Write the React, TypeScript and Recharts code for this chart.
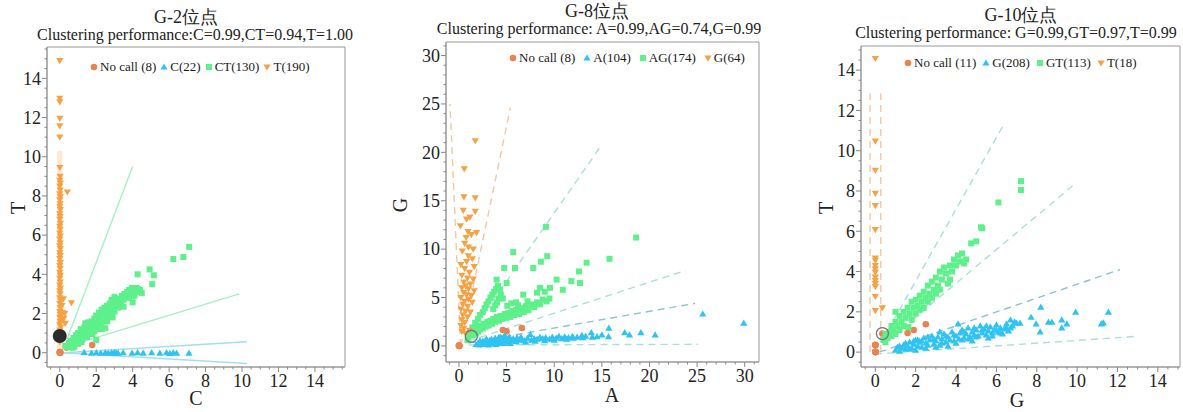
import React from "react";
import { ScatterChart, Scatter, XAxis, YAxis, ReferenceLine, ReferenceArea } from "recharts";

type Pt = [number, number];

const FONT = '"Liberation Serif", "Times New Roman", serif';
const ORANGE = "#f7a143";
const BLUE = "#2fc3f2";
const GREEN = "#5df08b";
const NOCALL = "#ea8352";

// ---------- G-2 ----------
const g2Legend = ["No call (8)", "C(22)", "CT(130)", "T(190)"];
const g2NoCall: Pt[] = [[0, 0], [0.37, 0.26], [1.78, 0.39], [0.02, 0.02], [0, 0.03], [0.03, 0], [0.01, 0.01], [0.02, 0.03]];
const g2Marked: Pt[] = [[0, 0.85]];
const g2C: Pt[] = [
  [1.34, 0.02], [1.74, -0.02], [2.01, 0], [2.25, -0.02], [2.5, 0], [2.66, -0.02], [2.84, 0], [2.95, -0.03],
  [3.02, 0], [3.2, -0.02], [3.48, 0], [3.97, -0.02], [4.27, 0], [4.58, -0.02], [5.04, 0], [5.49, -0.02],
  [5.86, 0], [6.04, -0.03], [6.23, 0], [6.41, -0.02], [3.1, -0.01], [7.09, -0.02],
];
const g2CT: Pt[] = [
  [0.3, 0.35], [0.4, 0.3], [0.5, 0.5], [0.55, 0.35], [0.6, 0.6], [0.64, 0.3], [0.7, 0.45], [0.75, 0.75], [0.8, 0.3],
  [0.85, 0.55], [0.9, 0.9], [0.95, 0.7], [1.0, 0.45], [1.0, 1.0], [1.05, 0.8], [1.1, 0.6], [1.15, 1.2], [1.2, 0.95],
  [1.25, 0.7], [1.3, 1.1], [1.35, 1.3], [1.4, 0.85], [1.45, 1.0], [1.5, 1.25], [1.55, 1.55], [1.6, 1.05], [1.65, 1.4],
  [1.7, 1.2], [1.75, 1.6], [1.8, 0.95], [1.85, 1.35], [1.9, 1.75], [1.95, 1.5], [2.0, 1.2], [2.0, 1.9], [2.0, 0.65],
  [2.05, 1.65], [2.1, 1.4], [2.15, 2.05], [2.2, 1.8], [2.25, 1.5], [2.3, 2.2], [2.3, 1.2], [2.35, 1.95], [2.4, 1.6],
  [2.45, 2.3], [2.5, 2.0], [2.5, 1.25], [2.55, 1.75], [2.6, 2.4], [2.65, 2.15], [2.7, 1.9], [2.75, 2.5], [2.8, 2.25],
  [2.84, 2.7], [2.85, 2.0], [2.9, 2.6], [2.95, 2.35], [3.0, 2.1], [3.0, 2.85], [3.05, 2.7], [3.1, 2.45], [3.2, 2.6],
  [3.3, 2.75], [3.35, 2.5], [3.35, 2.76], [3.4, 2.9], [3.5, 2.7], [3.55, 3.0], [3.6, 2.85], [3.7, 3.1], [3.75, 2.95],
  [3.8, 3.2], [3.9, 3.05], [3.95, 3.3], [4.0, 3.15], [4.0, 2.57], [4.1, 3.25], [4.2, 3.3], [4.3, 3.1], [4.4, 3.2],
  [4.5, 3.05], [4.27, 4.0], [4.93, 4.25], [5.16, 3.95], [5.07, 3.5], [6.23, 4.78], [6.78, 4.88], [7.1, 5.4],
  [1.2, 0.55], [1.5, 0.8], [1.7, 1.0], [2.2, 1.3], [2.6, 1.6], [2.9, 1.8], [3.2, 2.3], [3.5, 2.35], [3.8, 2.8],
  [4.1, 2.9], [4.3, 3.25], [0.7, 0.25], [1.0, 0.7], [1.4, 1.5], [1.9, 1.1],
];
const g2T: Pt[] = [
  [0, 0.55], [0.02, 0.7], [0, 0.85], [0.03, 1.0], [0, 1.15], [0.05, 1.3], [0, 1.45], [0.02, 1.6], [0.1, 1.7], [0, 1.8],
  [0.03, 1.95], [0.15, 2.05], [0, 2.1], [0.02, 2.3], [0.12, 2.4], [0, 2.5], [0.04, 2.65], [0.2, 2.75], [0, 2.8],
  [0.02, 3.0], [0, 3.15], [0.03, 3.3], [0, 3.45], [0.02, 3.6], [0, 3.8], [0.03, 3.95], [0, 4.1], [0.02, 4.3], [0, 4.45],
  [0.03, 4.6], [0, 4.8], [0.02, 4.95], [0, 5.1], [0.03, 5.3], [0, 5.45], [0.02, 5.6], [0, 5.8], [0.03, 5.95], [0, 6.1],
  [0.02, 6.3], [0, 6.45], [0.03, 6.6], [0, 6.8], [0.02, 6.95], [0, 7.1], [0.03, 7.3], [0, 7.45], [0.02, 7.6], [0, 7.8],
  [0.03, 7.95], [0, 8.1], [0.02, 8.3], [0, 8.5], [0.03, 8.65], [0, 8.8], [0.02, 9.0], [0, 9.45], [0.42, 8.2],
  [0.64, 2.55], [0.27, 2.0], [0.22, 1.75], [0.3, 1.5], [0, 11.0], [0, 11.57], [0, 11.96], [0, 12.8], [0, 12.98], [0, 14.9],
];
const g2Ticks = [0, 2, 4, 6, 8, 10, 12, 14];

// ---------- G-8 ----------
const g8Legend = ["No call (8)", "A(104)", "AG(174)", "G(64)"];
const g8NoCall: Pt[] = [[0, 0], [4.6, 1.65], [5.0, 1.5], [6.6, 1.85], [0.03, 0.02], [0.02, 0.04], [0.05, 0], [0, 0.05]];
const g8Marked: Pt[] = [[1.3, 1.0]];
const g8A: Pt[] = [
  [1.8, 0.15], [2.0, 0.3], [2.1, 0.1], [2.3, 0.4], [2.4, 0.2], [2.5, 0.5], [2.6, 0.15], [2.7, 0.35], [2.8, 0.6],
  [2.9, 0.25], [3.0, 0.45], [3.1, 0.1], [3.2, 0.55], [3.3, 0.3], [3.4, 0.7], [3.5, 0.2], [3.6, 0.5], [3.7, 0.35],
  [3.8, 0.8], [3.9, 0.15], [4.0, 0.6], [4.1, 0.4], [4.2, 0.9], [4.3, 0.3], [4.4, 0.65], [4.5, 0.45], [4.6, 0.8],
  [4.7, 0.25], [4.8, 1.1], [4.9, 0.55], [5.0, 0.7], [5.2, 0.4], [5.3, 0.9], [5.5, 0.6], [5.7, 0.75], [5.9, 0.5],
  [6.1, 0.85], [6.3, 0.6], [6.6, 0.7], [6.9, 0.55], [7.2, 0.8], [7.5, 1.2], [7.6, 0.6], [7.9, 0.75], [8.2, 0.7],
  [8.5, 0.9], [8.8, 0.75], [9.1, 0.85], [9.5, 0.7], [9.8, 0.9], [10.2, 0.8], [10.5, 1.0], [10.8, 0.75], [11.1, 0.95],
  [11.5, 0.85], [11.9, 1.0], [12.4, 0.9], [12.9, 1.1], [13.3, 1.0], [13.9, 1.38], [14.5, 0.97], [15.0, 1.14],
  [15.74, 1.83], [15.7, 0.97], [17.4, 1.38], [17.9, 1.14], [19.1, 1.38], [20.6, 1.14], [25.6, 3.3], [29.9, 2.35],
  [2.2, 0.55], [2.9, 0.7], [3.4, 0.45], [4.0, 0.25], [4.4, 0.9], [5.1, 0.55], [5.4, 0.25], [6.0, 0.45], [6.5, 0.9],
  [7.0, 0.4], [8.0, 0.5], [9.0, 0.55], [10.0, 0.6], [11.3, 0.7], [12.0, 0.8], [13.0, 0.85], [14.0, 0.9],
];
const g8AG: Pt[] = [
  [0.9, 0.6], [1.0, 1.0], [1.2, 1.3], [1.3, 1.5], [1.5, 1.1], [1.6, 1.6], [1.8, 1.3], [1.9, 1.9], [2.0, 1.5], [2.2, 1.7],
  [2.3, 2.1], [2.5, 1.8], [2.6, 2.3], [2.8, 2.0], [3.0, 2.5], [3.1, 2.1], [3.3, 2.6], [3.5, 2.3], [3.6, 2.8], [3.8, 2.5],
  [4.0, 3.0], [4.2, 2.6], [4.4, 3.1], [4.6, 2.8], [4.8, 3.3], [5.0, 2.9], [5.2, 3.4], [5.4, 3.0], [5.6, 3.6], [5.8, 3.2],
  [6.0, 3.7], [6.3, 3.3], [6.5, 3.9], [6.8, 3.5], [7.0, 4.1], [7.3, 3.7], [7.6, 4.3], [7.9, 4.0], [8.2, 4.5], [8.5, 4.3],
  [8.8, 4.8], [9.2, 4.6], [9.5, 4.9], [7.2, 4.6], [6.2, 4.2], [1.4, 1.9], [1.7, 2.4], [2.0, 2.8], [2.2, 3.2], [2.5, 3.5],
  [2.7, 3.9], [2.9, 4.3], [3.1, 4.6], [3.3, 5.0], [3.5, 5.3], [3.7, 5.6], [3.9, 5.9], [4.1, 6.2], [4.3, 5.8], [4.4, 5.3],
  [4.2, 4.9], [4.0, 4.5], [3.8, 4.2], [3.6, 3.8], [4.6, 4.9], [5.07, 4.15], [3.95, 6.85], [5.0, 6.5], [4.75, 8.05],
  [5.88, 8.05], [5.7, 9.7], [7.8, 8.05], [8.6, 8.7], [9.27, 9.27], [9.13, 12.3], [6.75, 5.3], [8.5, 6.0], [9.55, 6.0],
  [10.25, 6.85], [10.9, 5.8], [11.8, 6.7], [12.7, 6.5], [12.6, 7.7], [13.4, 8.6], [15.8, 9.0], [18.6, 11.2], [8.2, 5.5],
  [9.0, 5.6], [6.0, 4.5], [5.5, 4.4],
];
const g8G: Pt[] = [
  [1.71, 21.2], [0.56, 18.3], [0.52, 15.4], [1.71, 15.3], [0.45, 14.0], [1.71, 13.9], [1.15, 13.3], [0.8, 13.1],
  [0.15, 12.4], [1.85, 11.7], [0.95, 11.8], [0.75, 11.2], [1.3, 11.5], [0.6, 10.6], [1.0, 10.2], [1.5, 10.0],
  [0.35, 9.8], [0.98, 9.3], [1.4, 9.0], [0.8, 8.7], [0.2, 8.4], [1.6, 8.2], [0.6, 8.0], [1.1, 7.6], [0.3, 7.3],
  [0.9, 7.0], [1.5, 6.9], [0.5, 6.6], [1.2, 6.4], [0.7, 6.2], [0.3, 6.0], [1.0, 5.9], [1.6, 5.7], [0.5, 5.5],
  [0.8, 5.3], [1.3, 5.2], [0.2, 5.0], [1.0, 4.8], [0.6, 4.6], [1.4, 4.5], [0.4, 4.3], [0.9, 4.1], [0.2, 3.8],
  [0.7, 3.6], [1.2, 3.5], [0.4, 3.2], [0.9, 3.0], [0.3, 2.7], [0.6, 2.4], [0.2, 2.1], [0.5, 1.8], [0.3, 1.5],
  [0.7, 1.3], [1.1, 1.6],
];
const g8Ticks = [0, 5, 10, 15, 20, 25, 30];

// ---------- G-10 ----------
const g10Legend = ["No call (11)", "G(208)", "GT(113)", "T(18)"];
const g10NoCall: Pt[] = [
  [0, 0], [0, 0.35], [0.35, 0.92], [1.6, 0.95], [1.9, 1.1], [2.5, 1.38],
  [0.01, 0.01], [0.02, 0], [0, 0.02], [0.01, 0.34], [0, 0.36],
];
const g10Marked: Pt[] = [[0.35, 0.92]];
const g10G: Pt[] = [
  [1.0, 0.1], [1.1, 0.25], [1.2, 0.05], [1.3, 0.2], [1.4, 0.35], [1.5, 0.15], [1.5, 0.45], [1.6, 0.3], [1.7, 0.5],
  [1.8, 0.2], [1.9, 0.4], [2.0, 0.6], [2.0, 0.1], [2.1, 0.3], [2.2, 0.5], [2.3, 0.25], [2.3, 0.55], [2.4, 0.7],
  [2.5, 0.45], [2.6, 0.35], [2.7, 0.6], [2.8, 0.8], [2.9, 0.4], [3.0, 0.55], [3.1, 0.75], [3.2, 0.35], [3.2, 1.0],
  [3.3, 0.65], [3.4, 0.9], [3.5, 0.5], [3.6, 0.75], [3.6, 0.3], [3.7, 0.6], [3.8, 1.0], [3.9, 0.55], [4.0, 0.8],
  [4.1, 1.4], [4.15, 0.65], [4.2, 0.95], [4.3, 1.1], [4.4, 0.7], [4.5, 0.9], [4.6, 1.2], [4.7, 0.75], [4.8, 1.0],
  [4.8, 0.55], [4.9, 0.85], [5.0, 1.1], [5.1, 0.8], [5.2, 1.3], [5.3, 0.95], [5.4, 1.15], [5.5, 0.85], [5.6, 1.05],
  [5.6, 0.7], [5.7, 1.25], [5.8, 0.95], [5.9, 1.1], [6.0, 1.35], [6.1, 1.0], [6.2, 1.2], [6.3, 0.9], [6.4, 1.15],
  [6.5, 1.4], [6.6, 1.05], [6.7, 1.6], [6.8, 1.3], [7.0, 1.44], [7.17, 1.44], [7.72, 1.73], [7.97, 1.4], [8.2, 2.23],
  [8.17, 1.0], [8.58, 1.49], [8.75, 1.49], [9.24, 1.6], [9.24, 1.2], [9.49, 1.4], [9.93, 1.98], [11.2, 1.4],
  [11.3, 1.45], [11.55, 1.98],
  [1.2, 0.3], [1.7, 0.15], [2.1, 0.6], [2.5, 0.2], [2.9, 0.65], [3.3, 0.45], [3.5, 0.8], [3.9, 0.85], [4.0, 0.45],
  [4.3, 0.6], [4.4, 1.0], [4.6, 0.65], [4.9, 1.2], [5.0, 0.75], [5.3, 1.1], [5.5, 1.3], [5.8, 0.8], [6.0, 1.1],
  [6.2, 0.95], [6.5, 1.2], [6.7, 1.2], [6.9, 1.5], [3.0, 0.25], [2.6, 0.75], [1.9, 0.55],
];
const g10GT: Pt[] = [
  [0.4, 0.6], [0.5, 0.5], [0.5, 0.9], [0.6, 0.7], [0.7, 1.0], [0.8, 0.8], [0.8, 1.3], [0.9, 1.1], [1.0, 1.5], [1.0, 0.9],
  [1.0, 2.0], [1.1, 1.3], [1.2, 1.8], [1.2, 1.1], [1.3, 1.5], [1.4, 2.0], [1.4, 1.3], [1.5, 1.7], [1.6, 2.2], [1.64, 1.24],
  [1.7, 1.9], [1.8, 2.5], [1.8, 1.6], [1.9, 2.2], [2.0, 2.6], [2.0, 1.9], [2.1, 2.3], [2.2, 2.8], [2.2, 2.1], [2.3, 2.5],
  [2.4, 3.0], [2.4, 2.2], [2.5, 2.7], [2.6, 3.3], [2.6, 2.5], [2.7, 2.9], [2.8, 3.5], [2.8, 2.7], [2.9, 3.1], [3.0, 3.7],
  [3.0, 2.9], [3.1, 3.3], [3.2, 4.0], [3.2, 3.1], [3.3, 3.6], [3.4, 4.2], [3.5, 3.9], [3.6, 3.4], [3.7, 4.3], [3.7, 3.6],
  [3.8, 4.0], [3.9, 4.6], [4.0, 4.3], [4.1, 4.8], [4.2, 4.5], [4.3, 4.9], [4.4, 4.4], [4.5, 4.6], [4.75, 5.4], [5.0, 5.5],
  [5.24, 6.2], [5.3, 6.15], [6.1, 7.43], [7.22, 8.49], [7.22, 8.05],
];
const g10T: Pt[] = [
  [0, 14.58], [0, 10.48], [0, 9.03], [0, 7.88], [0, 7.27], [0, 6.08], [0, 4.67], [0, 4.55], [0, 4.3], [0, 4.13],
  [0, 3.97], [0, 3.72], [0, 3.55], [0, 3.4], [0, 3.25], [0, 2.76], [0, 2.06], [0.35, 2.2],
];
const g10Ticks = [0, 2, 4, 6, 8, 10, 12, 14];

// ---------- marker shapes ----------
const dot = (color: string, r = 3.3) => (p: any) => <circle cx={p.cx} cy={p.cy} r={r} fill={color} />;
const triUp = (color: string) => (p: any) => (
  <polygon points={`${p.cx},${p.cy - 3.6} ${p.cx + 3.6},${p.cy + 2.6} ${p.cx - 3.6},${p.cy + 2.6}`} fill={color} />
);
const triDown = (color: string) => (p: any) => (
  <polygon points={`${p.cx - 3.6},${p.cy - 2.6} ${p.cx + 3.6},${p.cy - 2.6} ${p.cx},${p.cy + 3.6}`} fill={color} />
);
const square = (color: string) => (p: any) => <rect x={p.cx - 3} y={p.cy - 3} width={6} height={6} fill={color} />;
const darkDot = (p: any) => <circle cx={p.cx} cy={p.cy} r={7} fill="#2b2b2b" />;
const ring = (p: any) => <circle cx={p.cx} cy={p.cy} r={6} fill="none" stroke="#777" strokeWidth={1.3} />;

const toData = (pts: Pt[]) => pts.map(([x, y]) => ({ x, y }));

function minorTicks(d: [number, number], step: number) {
  const out: number[] = [];
  for (let v = Math.ceil(d[0] / step) * step; v <= d[1]; v += step) out.push(Math.round(v * 100) / 100);
  return out;
}

const XTick = (major: number[]) => (props: any) => {
  const { x, y, payload } = props;
  const isMajor = major.includes(payload.value);
  return (
    <g>
      <line x1={x} x2={x} y1={y} y2={y + (isMajor ? 5 : 2.5)} stroke="#888" />
      {isMajor && (
        <text x={x} y={y + 7} dy="0.71em" textAnchor="middle" fontSize={18} fontFamily={FONT} style={{ fontFamily: FONT }} fill="#222">
          {payload.value}
        </text>
      )}
    </g>
  );
};

const YTick = (major: number[]) => (props: any) => {
  const { x, y, payload } = props;
  const isMajor = major.includes(payload.value);
  return (
    <g>
      <line x1={x - (isMajor ? 5 : 2.5)} x2={x} y1={y} y2={y} stroke="#888" />
      {isMajor && (
        <text x={x - 6} y={y} dy="0.35em" textAnchor="end" fontSize={18} fontFamily={FONT} style={{ fontFamily: FONT }} fill="#222">
          {payload.value}
        </text>
      )}
    </g>
  );
};

type Line = { from: Pt; to: Pt; color: string; dash?: string };

type PanelProps = {
  left: number;
  width: number;
  top: number;
  bottom: number;
  right: number;
  xDomain: [number, number];
  yDomain: [number, number];
  ticks: number[];
  minor: number;
  lines: Line[];
  band?: { x1: number; x2: number; y2: number };
  series: { pts: Pt[]; shape: any }[];
  marked: { pts: Pt[]; shape: any };
};

function Panel(p: PanelProps) {
  const minor = minorTicks(p.xDomain, p.minor);
  const minorY = minorTicks(p.yDomain, p.minor);
  return (
    <div style={{ position: "absolute", left: p.left, top: 0 }}>
      <ScatterChart width={p.width} height={412} margin={{ top: p.top, right: p.right, bottom: p.bottom, left: 0 }}>
        <XAxis
          type="number"
          dataKey="x"
          domain={p.xDomain}
          ticks={minor}
          interval={0}
          allowDataOverflow
          height={45}
          tickSize={0}
          tickMargin={0}
          tickLine={false}
          axisLine={{ stroke: "#999" }}
          tick={XTick(p.ticks)}
        />
        <YAxis
          type="number"
          dataKey="y"
          domain={p.yDomain}
          ticks={minorY}
          interval={0}
          allowDataOverflow
          width={40}
          tickSize={0}
          tickMargin={0}
          tickLine={false}
          axisLine={{ stroke: "#999" }}
          tick={YTick(p.ticks)}
        />
        <ReferenceArea
          x1={p.xDomain[0]}
          x2={p.xDomain[1]}
          y1={p.yDomain[0]}
          y2={p.yDomain[1]}
          fill="none"
          stroke="#999"
          ifOverflow="visible"
        />
        {p.band && (
          <ReferenceArea x1={p.band.x1} x2={p.band.x2} y1={0} y2={p.band.y2} fill="#fde0c2" fillOpacity={0.75} stroke="none" />
        )}
        {p.lines.map((l, i) => (
          <ReferenceLine
            key={i}
            segment={[{ x: l.from[0], y: l.from[1] }, { x: l.to[0], y: l.to[1] }]}
            stroke={l.color}
            strokeWidth={1.4}
            strokeDasharray={l.dash}
            ifOverflow="visible"
          />
        ))}
        {p.series.map((s, i) => (
          <Scatter key={i} data={toData(s.pts)} shape={s.shape} isAnimationActive={false} />
        ))}
        <Scatter data={toData(p.marked.pts)} shape={p.marked.shape} isAnimationActive={false} />
      </ScatterChart>
    </div>
  );
}

type LegendKind = "dot" | "up" | "sq" | "down";
const legendKinds: LegendKind[] = ["dot", "up", "sq", "down"];
const legendColors = [NOCALL, BLUE, GREEN, ORANGE];

function Marker({ kind, color }: { kind: LegendKind; color: string }) {
  return (
    <svg width={8} height={8} style={{ display: "block" }}>
      {kind === "dot" && <circle cx={4} cy={4} r={3.3} fill={color} />}
      {kind === "up" && <polygon points="4,0.5 7.6,6.6 0.4,6.6" fill={color} />}
      {kind === "sq" && <rect x={1} y={1} width={6} height={6} fill={color} />}
      {kind === "down" && <polygon points="0.4,1.4 7.6,1.4 4,7.5" fill={color} />}
    </svg>
  );
}

function LegendRow({ x, y, gap, labels }: { x: number; y: number; gap: number; labels: string[] }) {
  return (
    <div
      style={{
        position: "absolute",
        left: x - 4,
        top: y - 9,
        height: 18,
        display: "flex",
        alignItems: "center",
        fontFamily: FONT,
        fontSize: 13,
        color: "#1a1a1a",
        whiteSpace: "nowrap",
      }}
    >
      {labels.map((lab, i) => (
        <span key={i} style={{ display: "flex", alignItems: "center", marginRight: gap }}>
          <Marker kind={legendKinds[i]} color={legendColors[i]} />
          <span style={{ marginLeft: 2 }}>{lab}</span>
        </span>
      ))}
    </div>
  );
}

function Text({ x, y, size, children, rotate }: { x: number; y: number; size: number; children: any; rotate?: boolean }) {
  return (
    <div
      style={{
        position: "absolute",
        left: x,
        top: y,
        fontFamily: FONT,
        fontSize: size,
        lineHeight: 1,
        color: "#222",
        whiteSpace: "nowrap",
        transform: rotate ? "translate(-50%, -50%) rotate(-90deg)" : "translateX(-50%)",
      }}
    >
      {children}
    </div>
  );
}

const TEAL = "#a9e0dc";
const TEAL_DARK = "#8cc3cf";
const PALE_ORANGE = "#f2c99f";

export default function App() {
  return (
    <div style={{ position: "absolute", left: 0, top: 0, width: 1183, height: 412, background: "#fff", overflow: "hidden" }}>
      <Text x={186} y={8} size={18}>G-2位点</Text>
      <Text x={195} y={27} size={16}>Clustering performance:C=0.99,CT=0.94,T=1.00</Text>
      <Text x={597} y={2} size={18}>G-8位点</Text>
      <Text x={599} y={21} size={16}>Clustering performance: A=0.99,AG=0.74,G=0.99</Text>
      <Text x={1021} y={6} size={18}>G-10位点</Text>
      <Text x={1016} y={25} size={16}>Clustering performance: G=0.99,GT=0.97,T=0.99</Text>

      <Panel
        left={7}
        width={348}
        top={47}
        bottom={0}
        right={10}
        xDomain={[-0.7, 15.65]}
        yDomain={[-0.73, 15.6]}
        ticks={g2Ticks}
        minor={0.5}
        band={{ x1: -0.14, x2: 0.14, y2: 10.3 }}
        lines={[
          { from: [0.4, 0.7], to: [4.0, 9.5], color: "#a6efc4" },
          { from: [0.5, 0.35], to: [9.85, 3.0], color: "#a6efc4" },
          { from: [0.2, 0], to: [10.26, 0.56], color: "#a3def0" },
          { from: [0.2, 0], to: [10.26, -0.55], color: "#a3def0" },
        ]}
        series={[
          { pts: g2NoCall, shape: dot(NOCALL) },
          { pts: g2C, shape: triUp(BLUE) },
          { pts: g2CT, shape: square(GREEN) },
          { pts: g2T, shape: triDown(ORANGE) },
        ]}
        marked={{ pts: g2Marked, shape: darkDot }}
      />
      <Panel
        left={406}
        width={363}
        top={42}
        bottom={5}
        right={10}
        xDomain={[-1.36, 31.5]}
        yDomain={[-1.66, 31.4]}
        ticks={g8Ticks}
        minor={1}
        lines={[
          { from: [0.17, 0], to: [-0.94, 25], color: PALE_ORANGE, dash: "7 5" },
          { from: [0.2, 0], to: [5.4, 24.6], color: PALE_ORANGE, dash: "7 5" },
          { from: [0.6, 0.5], to: [14.8, 20.5], color: TEAL, dash: "7 5" },
          { from: [1, 0.5], to: [23.8, 7.8], color: TEAL, dash: "7 5" },
          { from: [1, 0.3], to: [24.8, 4.4], color: TEAL_DARK, dash: "7 5" },
          { from: [1, 0.1], to: [25.1, 0.17], color: TEAL, dash: "7 5" },
        ]}
        series={[
          { pts: g8NoCall, shape: dot(NOCALL) },
          { pts: g8A, shape: triUp(BLUE) },
          { pts: g8AG, shape: square(GREEN) },
          { pts: g8G, shape: triDown(ORANGE) },
        ]}
        marked={{ pts: g8Marked, shape: ring }}
      />
      <Panel
        left={821}
        width={361}
        top={46}
        bottom={0}
        right={2}
        xDomain={[-0.71, 15.1]}
        yDomain={[-0.74, 15.2]}
        ticks={g10Ticks}
        minor={0.5}
        lines={[
          { from: [-0.26, 0], to: [-0.26, 12.85], color: PALE_ORANGE, dash: "7 5" },
          { from: [0.27, 0], to: [0.27, 12.85], color: PALE_ORANGE, dash: "7 5" },
          { from: [0.3, 0.5], to: [6.35, 11.28], color: TEAL, dash: "7 5" },
          { from: [0.4, 0.4], to: [9.78, 8.26], color: TEAL, dash: "7 5" },
          { from: [0.2, 0], to: [12.13, 4.1], color: TEAL_DARK, dash: "7 5" },
          { from: [0, -0.1], to: [12.93, 0.78], color: TEAL, dash: "7 5" },
        ]}
        series={[
          { pts: g10NoCall, shape: dot(NOCALL) },
          { pts: g10G, shape: triUp(BLUE) },
          { pts: g10GT, shape: square(GREEN) },
          { pts: g10T, shape: triDown(ORANGE) },
        ]}
        marked={{ pts: g10Marked, shape: ring }}
      />

      <LegendRow x={94} y={67} gap={4} labels={g2Legend} />
      <LegendRow x={513} y={58} gap={8} labels={g8Legend} />
      <LegendRow x={908} y={63} gap={6} labels={g10Legend} />

      <Text x={196} y={388} size={20}>C</Text>
      <Text x={18} y={208} size={20} rotate>T</Text>
      <Text x={612} y={385} size={20}>A</Text>
      <Text x={400} y={205} size={20} rotate>G</Text>
      <Text x={1017} y={390} size={20}>G</Text>
      <Text x={826} y={208} size={20} rotate>T</Text>
    </div>
  );
}
